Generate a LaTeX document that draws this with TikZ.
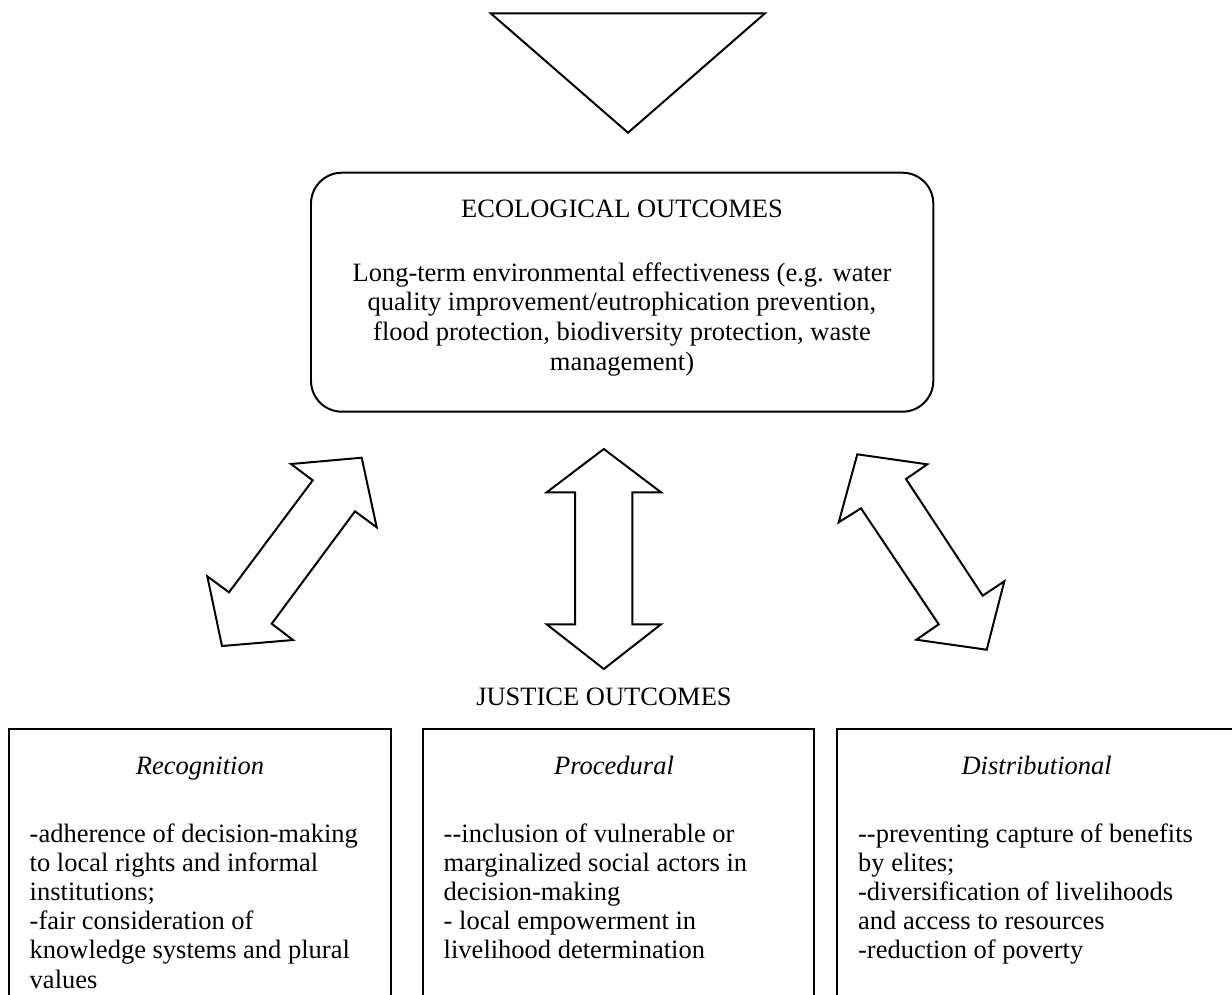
\documentclass[tikz,border=0pt]{standalone}
\usepackage{fontspec}
\setmainfont{Liberation Serif}
\usetikzlibrary{fit}

% body text: 12pt Times-like with Word-style line spacing
\newcommand\panelfont{\fontsize{12pt}{13.22pt}\selectfont}
\newcommand\ecofont{\fontsize{12pt}{13.45pt}\selectfont}

\begin{document}
\begin{tikzpicture}[x=0.4528pt,y=-0.4528pt,
  outline/.style={draw=black, line width=0.9pt, line join=miter},
  panel/.style={outline, inner sep=0pt},
  txt/.style={anchor=base, inner sep=0pt, font=\panelfont},
  title/.style={txt, font=\panelfont\itshape},
  bodyL/.style={anchor=base west, inner sep=0pt},
]
\path[use as bounding box] (0,0) rectangle (1232,994);

% funnel triangle at the top
\draw[outline] (490.7,13.3) coordinate (tl) -- (765,13.3) coordinate (tr)
  -- (628,132.7) coordinate (tip) -- cycle;

% ecological outcomes box
\node[panel, rounded corners=14pt, fit={(311,172.7) (933.3,411.7)}] (eco) {};
\node[txt, font=\ecofont] (ecohead) at (622,217) {ECOLOGICAL OUTCOMES};
\node[txt] (ecobody) at (622,281) {\parbox[t]{300pt}{\centering\ecofont
  Long-term environmental effectiveness (e.g. water\\
  quality improvement/eutrophication prevention,\\
  flood protection, biodiversity protection, waste\\
  management)}};

% double block arrows between ecological and justice outcomes
\draw[outline] (361.7,457.7) -- (376.7,527.3) -- (355,511.3) -- (271.7,623.7)
  -- (293,640) -- (222,646) -- (207.3,576.3) -- (229,592.3) -- (312.7,480.3)
  -- (291,464) -- cycle;
\draw[outline] (603.8,449) -- (661,492.3) -- (632.3,492.3) -- (632.3,624.3)
  -- (661,624.3) -- (603.8,669) -- (546.7,624.3) -- (575,624.3) -- (575,492.3)
  -- (546.7,492.3) -- cycle;
\draw[outline] (857.3,454.3) -- (927.3,464.3) -- (906,479) -- (982.7,595.7)
  -- (1004.3,581.3) -- (986.7,649.7) -- (916.3,639.7) -- (938.7,624.3)
  -- (861,508.3) -- (838.7,522.3) -- cycle;

\node[txt] (justice) at (604,705) {JUSTICE OUTCOMES};

% three justice panels (open at the bottom of the page)
\node[panel, fit={(9,729.3) (390.7,1000)}] (recog) {};
\node[panel, fit={(422.7,729.3) (814,1000)}] (proc) {};
\node[panel, fit={(836.7,729.3) (1240,1000)}] (dist) {};

\node[title] (recogtitle) at (200,774) {Recognition};
\node[title] (proctitle) at (614,774) {Procedural};
\node[title] (disttitle) at (1036.7,774) {Distributional};

\node[bodyL] (recogbody) at (29.3,842) {\parbox[t]{200pt}{\raggedright\panelfont
  -adherence of decision-making\\
  to local rights and informal\\
  institutions;\\
  -fair consideration of\\
  knowledge systems and plural\\
  values}};
\node[bodyL] (procbody) at (443.3,842) {\parbox[t]{200pt}{\raggedright\panelfont
  -{}-inclusion of vulnerable or\\
  marginalized social actors in\\
  decision-making\\
  - local empowerment in\\
  livelihood determination}};
\node[bodyL] (distbody) at (857.7,842) {\parbox[t]{200pt}{\raggedright\panelfont
  -{}-preventing capture of benefits\\
  by elites;\\
  -diversification of livelihoods\\
  and access to resources\\
  -reduction of poverty}};
\end{tikzpicture}
\end{document}
